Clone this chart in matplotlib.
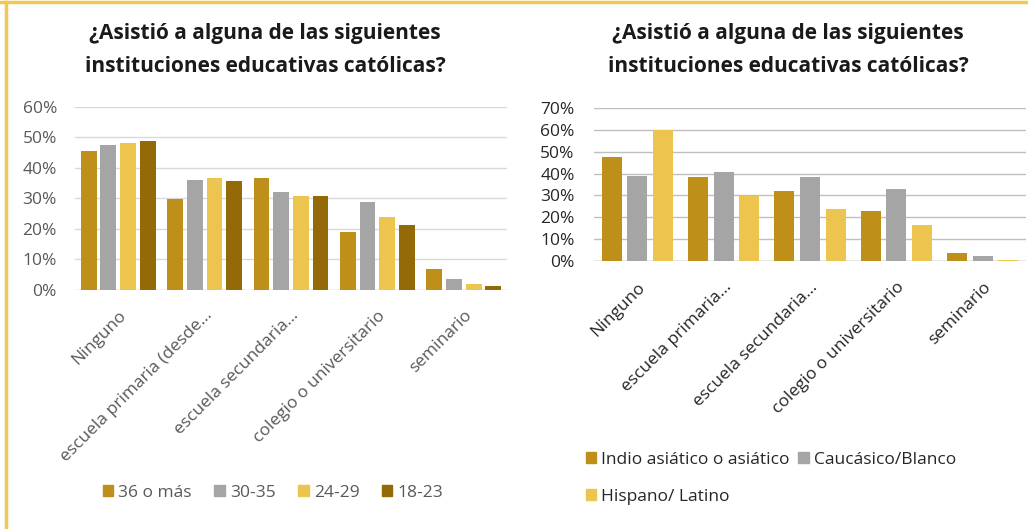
import matplotlib
matplotlib.use("Agg")
import matplotlib.pyplot as plt
from matplotlib.lines import Line2D
from matplotlib.ticker import PercentFormatter
import numpy as np

plt.rcParams['font.family'] = ['Open Sans', 'DejaVu Sans']

title = "¿Asistió a alguna de las siguientes\ninstituciones educativas católicas?"

# Left chart (by age)
cats_left = ["Ninguno", "escuela primaria (desde...", "escuela secundaria...",
             "colegio o universitario", "seminario"]
age_groups = ["36 o más", "30-35", "24-29", "18-23"]
s_36 = [45.4, 29.7, 36.5, 19.0, 6.8]
s_30 = [47.4, 35.9, 31.9, 28.7, 3.4]
s_24 = [48.2, 36.7, 30.7, 24.0, 1.8]
s_18 = [48.9, 35.6, 30.7, 21.1, 1.1]

# Right chart (by ethnicity)
cats_right = ["Ninguno", "escuela primaria...", "escuela secundaria...",
              "colegio o universitario", "seminario"]
eth_groups = ["Indio asiático o asiático", "Caucásico/Blanco", "Hispano/ Latino"]
e_asian = [47.6, 38.3, 31.9, 22.7, 3.7]
e_white = [38.9, 40.6, 38.3, 32.8, 2.3]
e_hisp = [60.0, 29.9, 23.6, 16.4, 0.6]

c_gold = "#BF9019"
c_gray = "#A5A5A5"
c_yellow = "#ECC44E"
c_brown = "#936A07"

fig = plt.figure(figsize=(10.28, 5.29), dpi=100)
W, H = 1028, 529

def px(x0, y0, x1, y1):
    return [x0 / W, 1 - y1 / H, (x1 - x0) / W, (y1 - y0) / H]

TICK_FS = 12.5
LEG_FS = 12.5
TITLE_FS = 15

# ---------- Left ----------
ax1 = fig.add_axes(px(75, 107, 507, 289.5))
series_l = [s_36, s_30, s_24, s_18]
cols_l = [c_gold, c_gray, c_yellow, c_brown]
x = np.arange(len(cats_left))
bw, step = 0.182, 0.228
for i, (vals, col) in enumerate(zip(series_l, cols_l)):
    ax1.bar(x + (i - 1.5) * step, vals, bw, color=col, label=age_groups[i], zorder=3)
ax1.set_xlim(-0.5, 4.5)
ax1.set_ylim(0, 60)
ax1.set_yticks(range(0, 61, 10))
ax1.yaxis.set_major_formatter(PercentFormatter(decimals=0))
ax1.grid(axis='y', color='#D9D9D9', linewidth=1, zorder=0)
for s in ax1.spines.values():
    s.set_visible(False)
ax1.tick_params(axis='both', length=0, labelsize=TICK_FS, colors='#595959')
ax1.tick_params(axis='y', pad=13)
ax1.tick_params(axis='x', pad=13)
ax1.set_xticks(x)
ax1.set_xticklabels(cats_left, rotation=45, ha='right', rotation_mode='anchor')
ax1.axhline(0, color='#D9D9D9', linewidth=1, zorder=2)
fig.text(265 / W, 1 - 50 / H, title, ha='center', va='center', fontsize=TITLE_FS,
         fontweight='bold', color='#1a1a1a', linespacing=1.7)
h1 = [plt.Rectangle((0, 0), 1, 1, color=c) for c in cols_l]
fig.legend(h1, age_groups, loc='center', bbox_to_anchor=(273 / W, 1 - 493 / H),
           ncol=4, frameon=False, fontsize=LEG_FS, handlelength=0.6, handleheight=0.6,
           handletextpad=0.3, columnspacing=1.3, labelcolor='#595959')

# ---------- Right ----------
ax2 = fig.add_axes(px(594, 108, 1026, 261))
series_r = [e_asian, e_white, e_hisp]
cols_r = [c_gold, c_gray, c_yellow]
bw2, step2 = 0.232, 0.297
for i, (vals, col) in enumerate(zip(series_r, cols_r)):
    ax2.bar(x + (i - 1) * step2, vals, bw2, color=col, label=eth_groups[i], zorder=3)
ax2.set_xlim(-0.5, 4.5)
ax2.set_ylim(0, 70)
ax2.set_yticks(range(0, 71, 10))
ax2.yaxis.set_major_formatter(PercentFormatter(decimals=0))
ax2.grid(axis='y', color='#BFBFBF', linewidth=1, zorder=0)
for s in ax2.spines.values():
    s.set_visible(False)
ax2.tick_params(axis='both', length=0, labelsize=TICK_FS, colors='#262626')
ax2.tick_params(axis='y', pad=14)
ax2.tick_params(axis='x', pad=13)
ax2.set_xticks(x)
ax2.set_xticklabels(cats_right, rotation=45, ha='right', rotation_mode='anchor')
ax2.axhline(0, color='#BFBFBF', linewidth=1, zorder=2)
fig.text(788 / W, 1 - 50 / H, title, ha='center', va='center', fontsize=TITLE_FS,
         fontweight='bold', color='#1a1a1a', linespacing=1.7)
h2 = [plt.Rectangle((0, 0), 1, 1, color=c) for c in cols_r]
fig.legend(h2[:2], eth_groups[:2], loc='center left', bbox_to_anchor=(570 / W, 1 - 460 / H),
           ncol=2, frameon=False, fontsize=LEG_FS, handlelength=0.6, handleheight=0.6,
           handletextpad=0.3, columnspacing=0.5, labelcolor='#262626')
fig.legend(h2[2:], eth_groups[2:], loc='center left', bbox_to_anchor=(570 / W, 1 - 497 / H),
           ncol=1, frameon=False, fontsize=LEG_FS, handlelength=0.6, handleheight=0.6,
           handletextpad=0.3, labelcolor='#262626')

# yellow frame lines
fig.add_artist(Line2D([0, 1], [1 - 2 / H, 1 - 2 / H], color='#F0C94E', linewidth=2.5,
                      transform=fig.transFigure))
fig.add_artist(Line2D([6 / W, 6 / W], [0, 1 - 2 / H], color='#F0C94E', linewidth=2.5,
                      transform=fig.transFigure))

fig.savefig("out.png", dpi=100)
